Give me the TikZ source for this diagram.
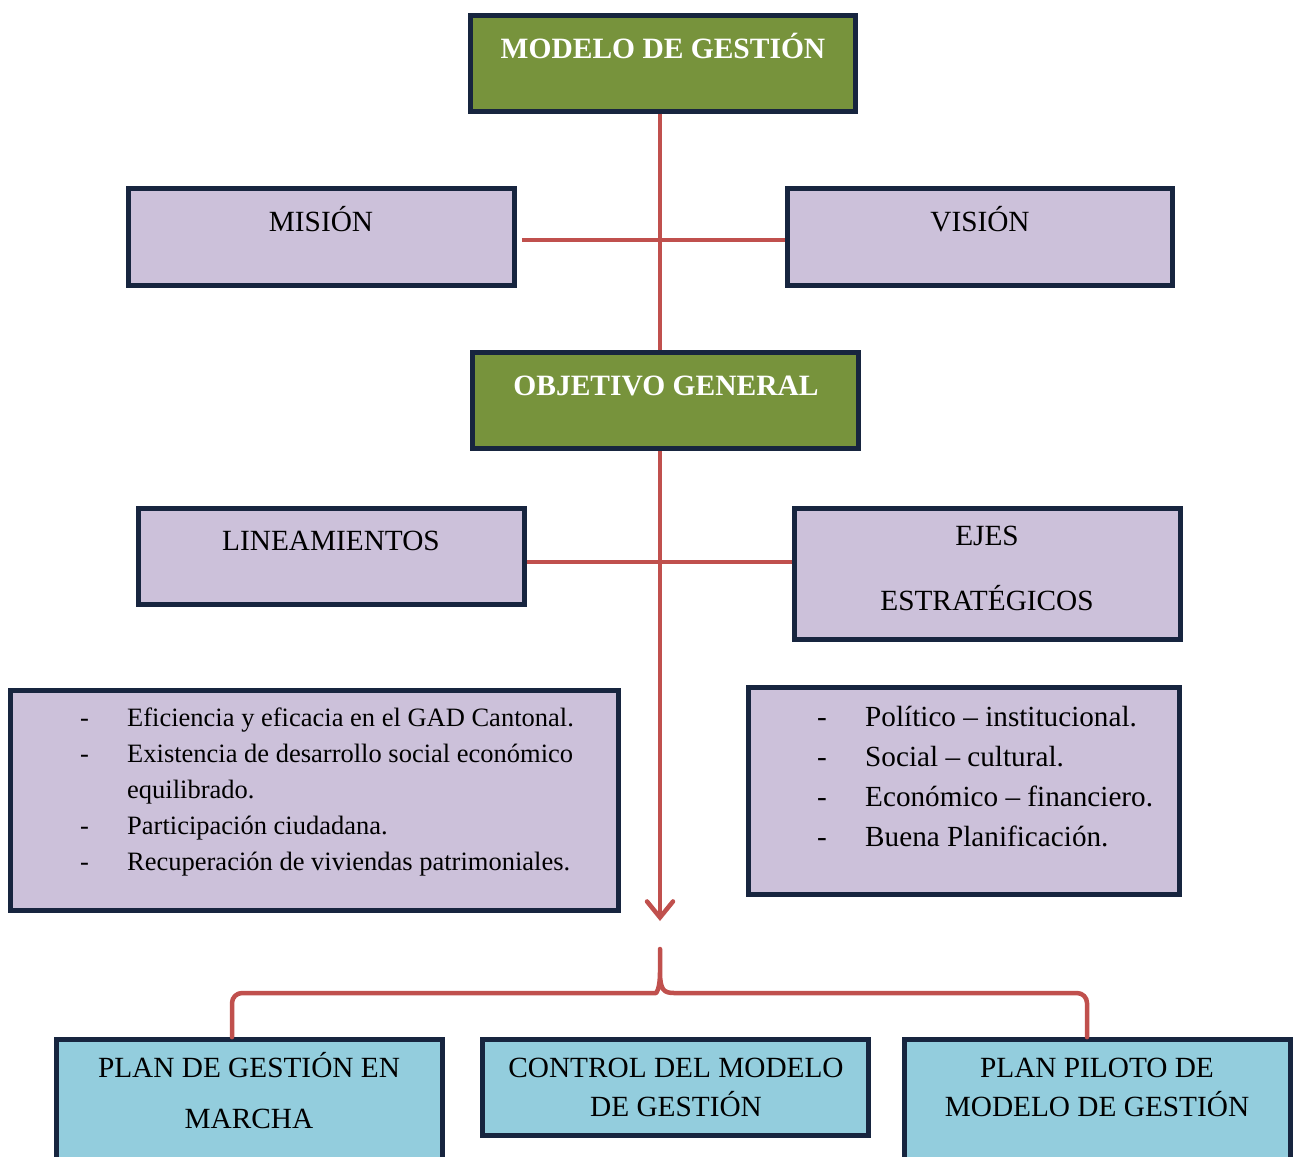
\documentclass[tikz,border=0pt]{standalone}
\usepackage{fontspec}
\setmainfont{Liberation Serif}
\usetikzlibrary{arrows.meta,shadows}
\definecolor{navy}{HTML}{17253F}
\definecolor{olive}{HTML}{77933C}
\definecolor{lav}{HTML}{CCC1DA}
\definecolor{skyb}{HTML}{93CDDD}
\definecolor{redl}{HTML}{C0504D}
\begin{document}
\begin{tikzpicture}[x=1pt,y=-1pt,
  box/.style={draw=navy, line width=4.8pt, inner sep=0pt, rectangle,
    drop shadow={shadow xshift=1.5pt, shadow yshift=-2.5pt, fill=black, opacity=0.25}},
  greenbox/.style={box, fill=olive},
  lavbox/.style={box, fill=lav},
  bluebox/.style={box, fill=skyb},
  titletext/.style={anchor=base, text=white, font=\fontsize{29.5}{34}\selectfont\bfseries, inner sep=0pt},
  captext/.style={anchor=base, text=black, font=\fontsize{29.3}{34}\selectfont, inner sep=0pt},
  listtext/.style={anchor=base west, text=black, font=\fontsize{26.5}{32}\selectfont, inner sep=0pt},
  rlisttext/.style={anchor=base west, text=black, font=\fontsize{29.2}{34}\selectfont, inner sep=0pt},
  redline/.style={draw=redl, line width=4.5pt, line cap=round, line join=round},
]
\useasboundingbox (0,0) rectangle (1295,1156);
\fill[white] (0,0) rectangle (1295,1156);

% boxes
\node[greenbox, minimum width=385pt, minimum height=96pt] (modelo) at (663,63.5) {};
\node[lavbox, minimum width=386pt, minimum height=97pt] (mision) at (321.5,237) {};
\node[lavbox, minimum width=385pt, minimum height=97pt] (vision) at (980,237) {};
\node[greenbox, minimum width=386pt, minimum height=96pt] (objetivo) at (665.5,400.5) {};
\node[lavbox, minimum width=386pt, minimum height=96pt] (lineam) at (331.5,556.5) {};
\node[lavbox, minimum width=386pt, minimum height=131pt] (ejes) at (987.5,574) {};
\node[lavbox, minimum width=608pt, minimum height=220pt] (leftlist) at (314.5,800.5) {};
\node[lavbox, minimum width=431pt, minimum height=207pt] (rightlist) at (964,791) {};
\node[bluebox, minimum width=386pt, minimum height=140pt] (plan) at (249.5,1109.5) {};
\node[bluebox, minimum width=386pt, minimum height=96pt] (control) at (675.5,1087.5) {};
\node[bluebox, minimum width=386pt, minimum height=140pt] (piloto) at (1097.5,1109.5) {};

% texts
\node[titletext] (tmodelo) at (663,59) {MODELO DE GESTIÓN};
\node[captext] (tmision) at (321,231.5) {MISIÓN};
\node[captext] (tvision) at (980,231.5) {VISIÓN};
\node[titletext] (tobjetivo) at (666,395.5) {OBJETIVO GENERAL};
\node[captext] (tlineam) at (331,550.5) {LINEAMIENTOS};
\node[captext] (tejesa) at (987,545.5) {EJES};
\node[captext] (tejesb) at (987,610.5) {ESTRATÉGICOS};

\foreach \yy/\txt [count=\i] in {726/{Eficiencia y eficacia en el GAD Cantonal.},
    762/{Existencia de desarrollo social económico},
    834/{Participación ciudadana.},
    870/{Recuperación de viviendas patrimoniales.}}{
  \node[listtext] (ld\i) at (80,\yy) {-};
  \node[listtext] (lt\i) at (127,\yy) {\txt};
}
\node[listtext] (ltx) at (127,798) {equilibrado.};

\foreach \yy/\txt [count=\i] in {726/{Político – institucional.},
    766/{Social – cultural.},
    806/{Económico – financiero.},
    846/{Buena Planificación.}}{
  \node[rlisttext] (rd\i) at (817,\yy) {-};
  \node[rlisttext] (rt\i) at (865,\yy) {\txt};
}

\node[captext] (tplana) at (249,1077) {PLAN DE GESTIÓN EN};
\node[captext] (tplanb) at (249,1128) {MARCHA};
\node[captext] (tcontrola) at (676,1077) {CONTROL DEL MODELO};
\node[captext] (tcontrolb) at (676,1116) {DE GESTIÓN};
\node[captext] (tpilotoa) at (1097,1077) {PLAN PILOTO DE};
\node[captext] (tpilotob) at (1097,1116) {MODELO DE GESTIÓN};

% connectors
\coordinate (spine) at (660,0);
\coordinate (h1) at (0,240);
\coordinate (h2) at (0,562);
\coordinate (arrowtip) at (660,921);
\coordinate (bracepeak) at (660,949);
\coordinate (bl) at (232,0);
\coordinate (br) at (1087,0);

\draw[redline, line cap=butt] (modelo.south -| spine) -- (objetivo.north -| spine);
\draw[redline, line cap=butt] ([xshift=5pt]mision.east |- h1) -- (vision.west |- h1);
\draw[redline, line cap=butt] (lineam.east |- h2) -- (ejes.west |- h2);
\draw[redline, line cap=butt, -{Straight Barb[length=16pt,width=26pt,line cap=round]}]
  (objetivo.south -| spine) -- (arrowtip);
\draw[redline] (plan.north -| bl) [rounded corners=10pt] -- (232,993) -- (646,993) [sharp corners]
  .. controls (656,993) and (660,990) .. (660,972) -- (bracepeak) -- (660,972)
  .. controls (660,990) and (664,993) .. (674,993) [rounded corners=10pt] -- (1087,993) -- (piloto.north -| br);
\end{tikzpicture}
\end{document}
